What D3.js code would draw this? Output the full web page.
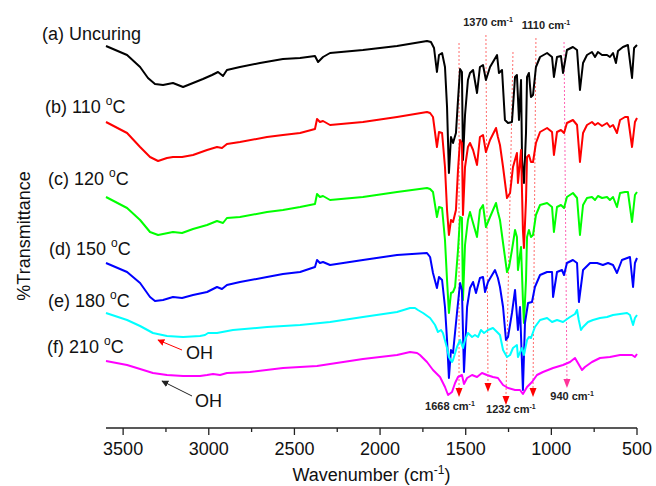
<!DOCTYPE html>
<html><head><meta charset="utf-8">
<script src="https://cdn.jsdelivr.net/npm/d3@7/dist/d3.min.js"></script>
<style>
html,body{margin:0;padding:0;background:#fff;}
text{font-family:"Liberation Sans",Arial,sans-serif;}
</style></head>
<body><div id="chart"></div>
<script>
// ---- DATA (wavenumber cm-1, offset %transmittance in arbitrary units) ----
const seriesNames = ["(a) Uncuring", "(b) 110 ", "(c) 120 ", "(d) 150 ", "(e) 180 ", "(f) 210 "];
const seriesColors = ["#000000", "#ff0000", "#00ff00", "#0000ff", "#00ffff", "#ff00ff"];
const xTicks = [3500, 3000, 2500, 2000, 1500, 1000, 500];
const xMinorTicks = [3250, 2750, 2250, 1750, 1250, 750];

const specA = [[3600,95.5],[3477,93.25],[3401,90.25],[3355,87.5],[3314,86],[3267,85.75],[3209,86.25],[3150,85.25],[3092,86.25],[3034,87.25],[2981,88.25],[2946,89],[2917,88],[2894,89.5],[2818,90.25],[2701,91.25],[2567,92.25],[2467,92.5],[2380,93],[2362,91.5],[2333,92.75],[2292,93.75],[2100,94.5],[1901,95.5],[1726,96.75],[1703,96.5],[1685,95],[1668,89],[1656,93.25],[1638,93.75],[1621,90.25],[1609,80.25],[1598,63.75],[1586,72.75],[1574,71.25],[1557,73.75],[1545,82],[1533,89.75],[1522,89],[1516,67],[1504,78.25],[1487,87],[1475,88.75],[1457,89.5],[1434,83.75],[1417,90.25],[1399,90.75],[1382,87],[1358,90.25],[1317,93.25],[1306,88.75],[1288,89.5],[1271,77],[1253,76.25],[1230,76.5],[1212,87.75],[1201,88.25],[1189,77],[1177,87],[1171,67],[1160,61.25],[1148,73.75],[1142,87.75],[1131,88.75],[1119,82.75],[1107,83.25],[1090,90.25],[1066,92.75],[1025,93.75],[996,92.75],[985,87.75],[967,92.75],[944,93],[932,88.75],[909,94.5],[874,95.25],[850,94.5],[833,84.5],[815,91.25],[792,93.25],[763,94],[745,92.75],[728,94],[704,93.25],[675,93.25],[658,92.75],[640,93.75],[623,91.25],[611,94.25],[582,95.25],[553,95.75],[529,87.5],[517,95],[500,95.75]];

const specB = [[3600,76.5],[3477,73.75],[3401,70.25],[3343,67.75],[3296,66.75],[3244,67.5],[3209,67.75],[3156,67.75],[3092,68.25],[3010,69.5],[2952,70.25],[2923,70],[2894,71],[2818,71.5],[2660,72.75],[2567,73.25],[2467,73.75],[2380,74.75],[2368,77.25],[2351,76.5],[2333,76.75],[2292,75.75],[2100,76.5],[1901,77.75],[1726,79],[1708,78.75],[1691,77.75],[1668,70.25],[1656,74],[1638,73.75],[1621,65.25],[1609,54.5],[1598,48.25],[1586,52],[1574,51.5],[1557,54.5],[1545,64.5],[1533,72],[1522,71.25],[1516,53.25],[1504,65.25],[1487,70.25],[1475,71.25],[1457,69.5],[1434,65.75],[1417,72.75],[1399,73.25],[1382,69],[1358,72],[1323,75],[1312,72.75],[1300,70.75],[1282,65.25],[1259,57.5],[1241,58.75],[1224,65.25],[1201,68.75],[1195,61.25],[1177,69.5],[1166,49.5],[1160,45],[1148,57],[1142,67.75],[1131,68.25],[1119,66.5],[1107,66.5],[1090,71.25],[1066,74],[1025,75],[996,74],[985,68.25],[967,74],[944,74.5],[926,73.75],[909,76.25],[874,77],[850,75.75],[833,66.5],[815,73.75],[792,75.75],[763,76.5],[745,75.75],[728,76.25],[704,75.5],[675,76.25],[658,75.25],[640,75.75],[617,73.75],[599,77],[570,77.75],[553,77.75],[529,70.25],[512,76.5],[500,77.5]];

const specC = [[3600,57.75],[3477,55],[3401,52],[3343,49],[3296,48.25],[3209,49],[3156,48.75],[3092,49.75],[3010,50.75],[2952,51.75],[2917,51.25],[2894,52.5],[2818,52.75],[2660,54],[2567,54.5],[2467,55.25],[2380,56],[2368,58.5],[2351,57.75],[2333,58],[2292,57],[2100,57.75],[1901,59],[1726,60],[1708,59.75],[1691,59],[1668,52.75],[1656,55.25],[1638,55],[1621,47],[1609,37],[1598,28.75],[1586,33.75],[1574,34],[1562,35.25],[1545,44.5],[1533,52.75],[1522,52.5],[1516,32],[1504,45.75],[1487,52],[1475,54],[1457,51.25],[1434,47.75],[1417,54.5],[1399,55.75],[1382,50.25],[1358,52.75],[1323,56.25],[1312,54],[1300,52],[1282,46.25],[1259,39],[1247,40.25],[1230,44.5],[1212,49.5],[1201,47.75],[1195,39.5],[1177,45.25],[1166,32],[1160,26.25],[1148,37],[1142,47.75],[1131,49.5],[1119,47.75],[1107,48.25],[1090,53.25],[1066,55.75],[1025,56.25],[996,55.25],[985,49],[967,55.25],[944,55.75],[926,55],[909,57.75],[874,58.75],[850,57.5],[833,48.25],[815,55.75],[792,57.5],[763,57.75],[745,57],[728,58],[704,57.5],[675,57.75],[658,57],[640,57.75],[617,55.25],[599,58.75],[570,59],[553,59],[529,51.5],[512,58.25],[500,59]];

const specD = [[3600,41.25],[3477,39],[3401,36.25],[3343,32.75],[3314,31.75],[3267,32],[3209,32.75],[3156,32.5],[3092,33.25],[3010,34],[2952,35.25],[2923,34.75],[2894,35.75],[2818,36.5],[2660,37.75],[2567,38.5],[2467,39],[2380,40.25],[2368,42],[2351,41.25],[2333,41.5],[2292,40.75],[2100,42],[1901,43.25],[1726,43.75],[1708,42.75],[1691,38.75],[1668,35],[1656,37.75],[1638,37],[1621,30.25],[1609,22],[1598,12.5],[1586,19.5],[1574,18.75],[1551,28.75],[1533,36.25],[1522,34.5],[1510,14],[1492,30.25],[1475,35],[1457,36.5],[1440,33.75],[1417,37.5],[1399,37.75],[1387,34],[1370,36.5],[1329,39.5],[1312,37.5],[1300,35.25],[1282,30.25],[1265,22],[1253,22.75],[1230,28.75],[1212,34.5],[1195,24.5],[1183,30.25],[1166,9.5],[1154,26.25],[1136,31.25],[1113,31.5],[1096,35.25],[1066,38.25],[1025,39],[996,39],[990,32.75],[967,39],[938,39.5],[926,38.25],[909,41.25],[874,42],[850,41.25],[839,31.5],[815,39.5],[774,41.25],[733,41.25],[699,40.75],[669,41.25],[640,40.75],[617,38.75],[588,42],[541,42.75],[523,35.25],[512,41.25],[500,42.5]];

const specE = [[3600,28.75],[3477,27],[3401,25.5],[3326,23.75],[3244,23],[3150,22.75],[3051,23],[3022,23.25],[3004,23.75],[2952,23.75],[2859,24.5],[2660,25.25],[2467,25.75],[2292,26.5],[2100,27.75],[1901,29],[1825,30],[1796,30],[1779,29.5],[1749,28.75],[1708,27.5],[1679,25.75],[1662,24],[1644,24.5],[1633,23.75],[1609,20],[1598,17.75],[1580,16.5],[1574,17],[1551,20.25],[1533,22],[1516,20],[1504,22],[1487,23.75],[1463,22.75],[1446,23.25],[1428,22.75],[1411,24.5],[1393,23.75],[1370,24.5],[1341,25],[1317,24],[1300,23.25],[1282,19.5],[1259,17.75],[1241,18.25],[1224,20],[1201,20.75],[1195,17.75],[1171,20],[1160,18.25],[1142,22],[1131,22.75],[1119,22.5],[1096,25.25],[1066,27],[1025,27.5],[996,26.5],[967,27],[932,26.5],[891,27.75],[862,28.5],[850,29.5],[840,27],[827,24.5],[815,25.25],[786,26.5],[757,27],[716,27.5],[675,27.75],[640,28.25],[599,28.5],[558,28.75],[541,28.25],[523,25.75],[512,27.5],[500,28.25]];

const specF = [[3600,16.75],[3477,15.75],[3401,14.75],[3326,13.75],[3244,13.25],[3150,13],[3051,13],[3010,13.25],[2975,13.5],[2934,13.25],[2894,13.75],[2759,14],[2567,15],[2368,15.5],[2292,16],[2100,17.25],[1901,18.25],[1825,19],[1784,18.75],[1767,18.25],[1726,16.5],[1691,14.5],[1650,12.75],[1621,10.25],[1603,8.25],[1580,9],[1562,11.25],[1545,12.75],[1522,13.25],[1510,11],[1492,12.5],[1463,13.25],[1434,12.75],[1405,13.75],[1376,13.25],[1341,12.75],[1312,12.5],[1282,10.75],[1253,10],[1212,9.5],[1183,9.5],[1166,8.5],[1142,10.25],[1113,11.5],[1084,13.25],[1049,14],[990,15],[932,15.75],[891,16.5],[862,17.5],[845,16.25],[821,14.5],[804,15.25],[763,16.5],[716,17.5],[658,17.75],[599,18.25],[553,18.25],[529,18.25],[512,17.75],[500,18.5]];

// annotation markers: label, dashed line top, arrow tip, label anchor
const markLabels = ["1668", "1370", "1232", "1110", "940"];
const markTop = [[1539,96.25],[1382,98.25],[1224,94],[1090,97.5],[926,96.5]];
const markBottom = [[1539,7.75],[1370,9],[1265,5.75],[1107,7.75],[909,10]];
const markLabelAt = [[1592,4.5],[1370,100.5],[1236,3.75],[1031,99.75],[879,7]];

// ---- CHART ----
const W = 656, H = 486;
const svg = d3.select("#chart").append("svg").attr("width", W).attr("height", H);
const x = d3.scaleLinear().domain([3600, 500]).range([106, 637]);
const y = d3.scaleLinear().domain([0, 107]).range([428, 0]);

const specs = [specA, specB, specC, specD, specE, specF];

// dashed marker lines
const markColors = ["#ff5a5a", "#ff5a5a", "#ff5a5a", "#ff5a5a", "#ff4fa8"];
const marks = svg.append("g");
markTop.forEach((t, i) => {
  const b = markBottom[i];
  marks.append("line")
    .attr("x1", x(t[0])).attr("y1", y(t[1]))
    .attr("x2", x(b[0])).attr("y2", y(b[1]) - 8)
    .attr("stroke", markColors[i]).attr("stroke-width", 0.9)
    .attr("stroke-dasharray", "2,2");
});

// spectra
const line = d3.line().x(d => x(d[0])).y(d => y(d[1]));
specs.forEach((s, i) => {
  svg.append("path").datum(s).attr("d", line)
    .attr("fill", "none").attr("stroke", seriesColors[i])
    .attr("stroke-width", 2).attr("stroke-linejoin", "round");
});

// arrowheads of marker lines (tip at the bottom point)
markBottom.forEach((b, i) => {
  const px = x(b[0]), py = y(b[1]);
  marks.append("path")
    .attr("d", `M${px-3.5},${py-9} L${px+3.5},${py-9} L${px},${py} Z`)
    .attr("fill", i === 4 ? "#ff3399" : "#ff0000");
});

// marker labels
markLabels.forEach((l, i) => {
  const p = markLabelAt[i];
  const t = svg.append("text").attr("x", x(p[0])).attr("y", y(p[1]))
    .attr("text-anchor", "middle").attr("font-size", 11).attr("font-weight", "bold")
    .attr("fill", "#222");
  t.append("tspan").text(l + " cm");
  t.append("tspan").attr("dy", -4).attr("font-size", 7).text("-1");
});

// series labels
const labelPos = [[42, 40], [45, 113], [48, 185], [49, 255], [48, 307], [47, 353]];
seriesNames.forEach((n, i) => {
  const t = svg.append("text").attr("x", labelPos[i][0]).attr("y", labelPos[i][1])
    .attr("font-size", 18).attr("fill", "#111");
  t.append("tspan").text(n);
  if (i > 0) {
    t.append("tspan").attr("dy", -8).attr("font-size", 12).text("o");
    t.append("tspan").attr("dy", 8).text("C");
  }
});

// OH arrows
const defs = svg.append("defs");
[["ahRed", "#ff0000"], ["ahBlk", "#222"]].forEach(([id, c]) => {
  defs.append("marker").attr("id", id).attr("viewBox", "0 0 10 10")
    .attr("refX", 9).attr("refY", 5).attr("markerWidth", 7).attr("markerHeight", 7)
    .attr("orient", "auto").attr("markerUnits", "userSpaceOnUse")
    .append("path").attr("d", "M0,0 L10,5 L0,10 Z").attr("fill", c);
});
svg.append("line").attr("x1", 182).attr("y1", 350).attr("x2", 158).attr("y2", 340)
  .attr("stroke", "#ff0000").attr("stroke-width", 1).attr("marker-end", "url(#ahRed)");
svg.append("text").attr("x", 186).attr("y", 359).attr("font-size", 18).attr("fill", "#111").text("OH");
svg.append("line").attr("x1", 192).attr("y1", 396).attr("x2", 162).attr("y2", 381)
  .attr("stroke", "#222").attr("stroke-width", 1).attr("marker-end", "url(#ahBlk)");
svg.append("text").attr("x", 195).attr("y", 407).attr("font-size", 18).attr("fill", "#111").text("OH");

// x axis
const ax = svg.append("g").attr("transform", "translate(0,428)");
ax.append("line").attr("x1", x(3600)).attr("x2", x(500)).attr("stroke", "#222").attr("stroke-width", 1.3);
xTicks.forEach(t => {
  ax.append("line").attr("x1", x(t)).attr("x2", x(t)).attr("y1", 0).attr("y2", 7)
    .attr("stroke", "#222").attr("stroke-width", 1.3);
  ax.append("text").attr("x", x(t)).attr("y", 27).attr("text-anchor", "middle")
    .attr("font-size", 18).attr("fill", "#111").text(t);
});
xMinorTicks.forEach(t => {
  ax.append("line").attr("x1", x(t)).attr("x2", x(t)).attr("y1", 0).attr("y2", 4)
    .attr("stroke", "#222").attr("stroke-width", 1.3);
});
const xt = svg.append("text").attr("x", (x(3600) + x(500)) / 2).attr("y", 481)
  .attr("text-anchor", "middle").attr("font-size", 18).attr("fill", "#111");
xt.append("tspan").text("Wavenumber (cm");
xt.append("tspan").attr("dy", -7).attr("font-size", 12).text("-1");
xt.append("tspan").attr("dy", 7).text(")");

svg.append("text").attr("transform", "translate(30,236) rotate(-90)")
  .attr("text-anchor", "middle").attr("font-size", 18).attr("fill", "#111").text("%Transmittance");
</script></body></html>
